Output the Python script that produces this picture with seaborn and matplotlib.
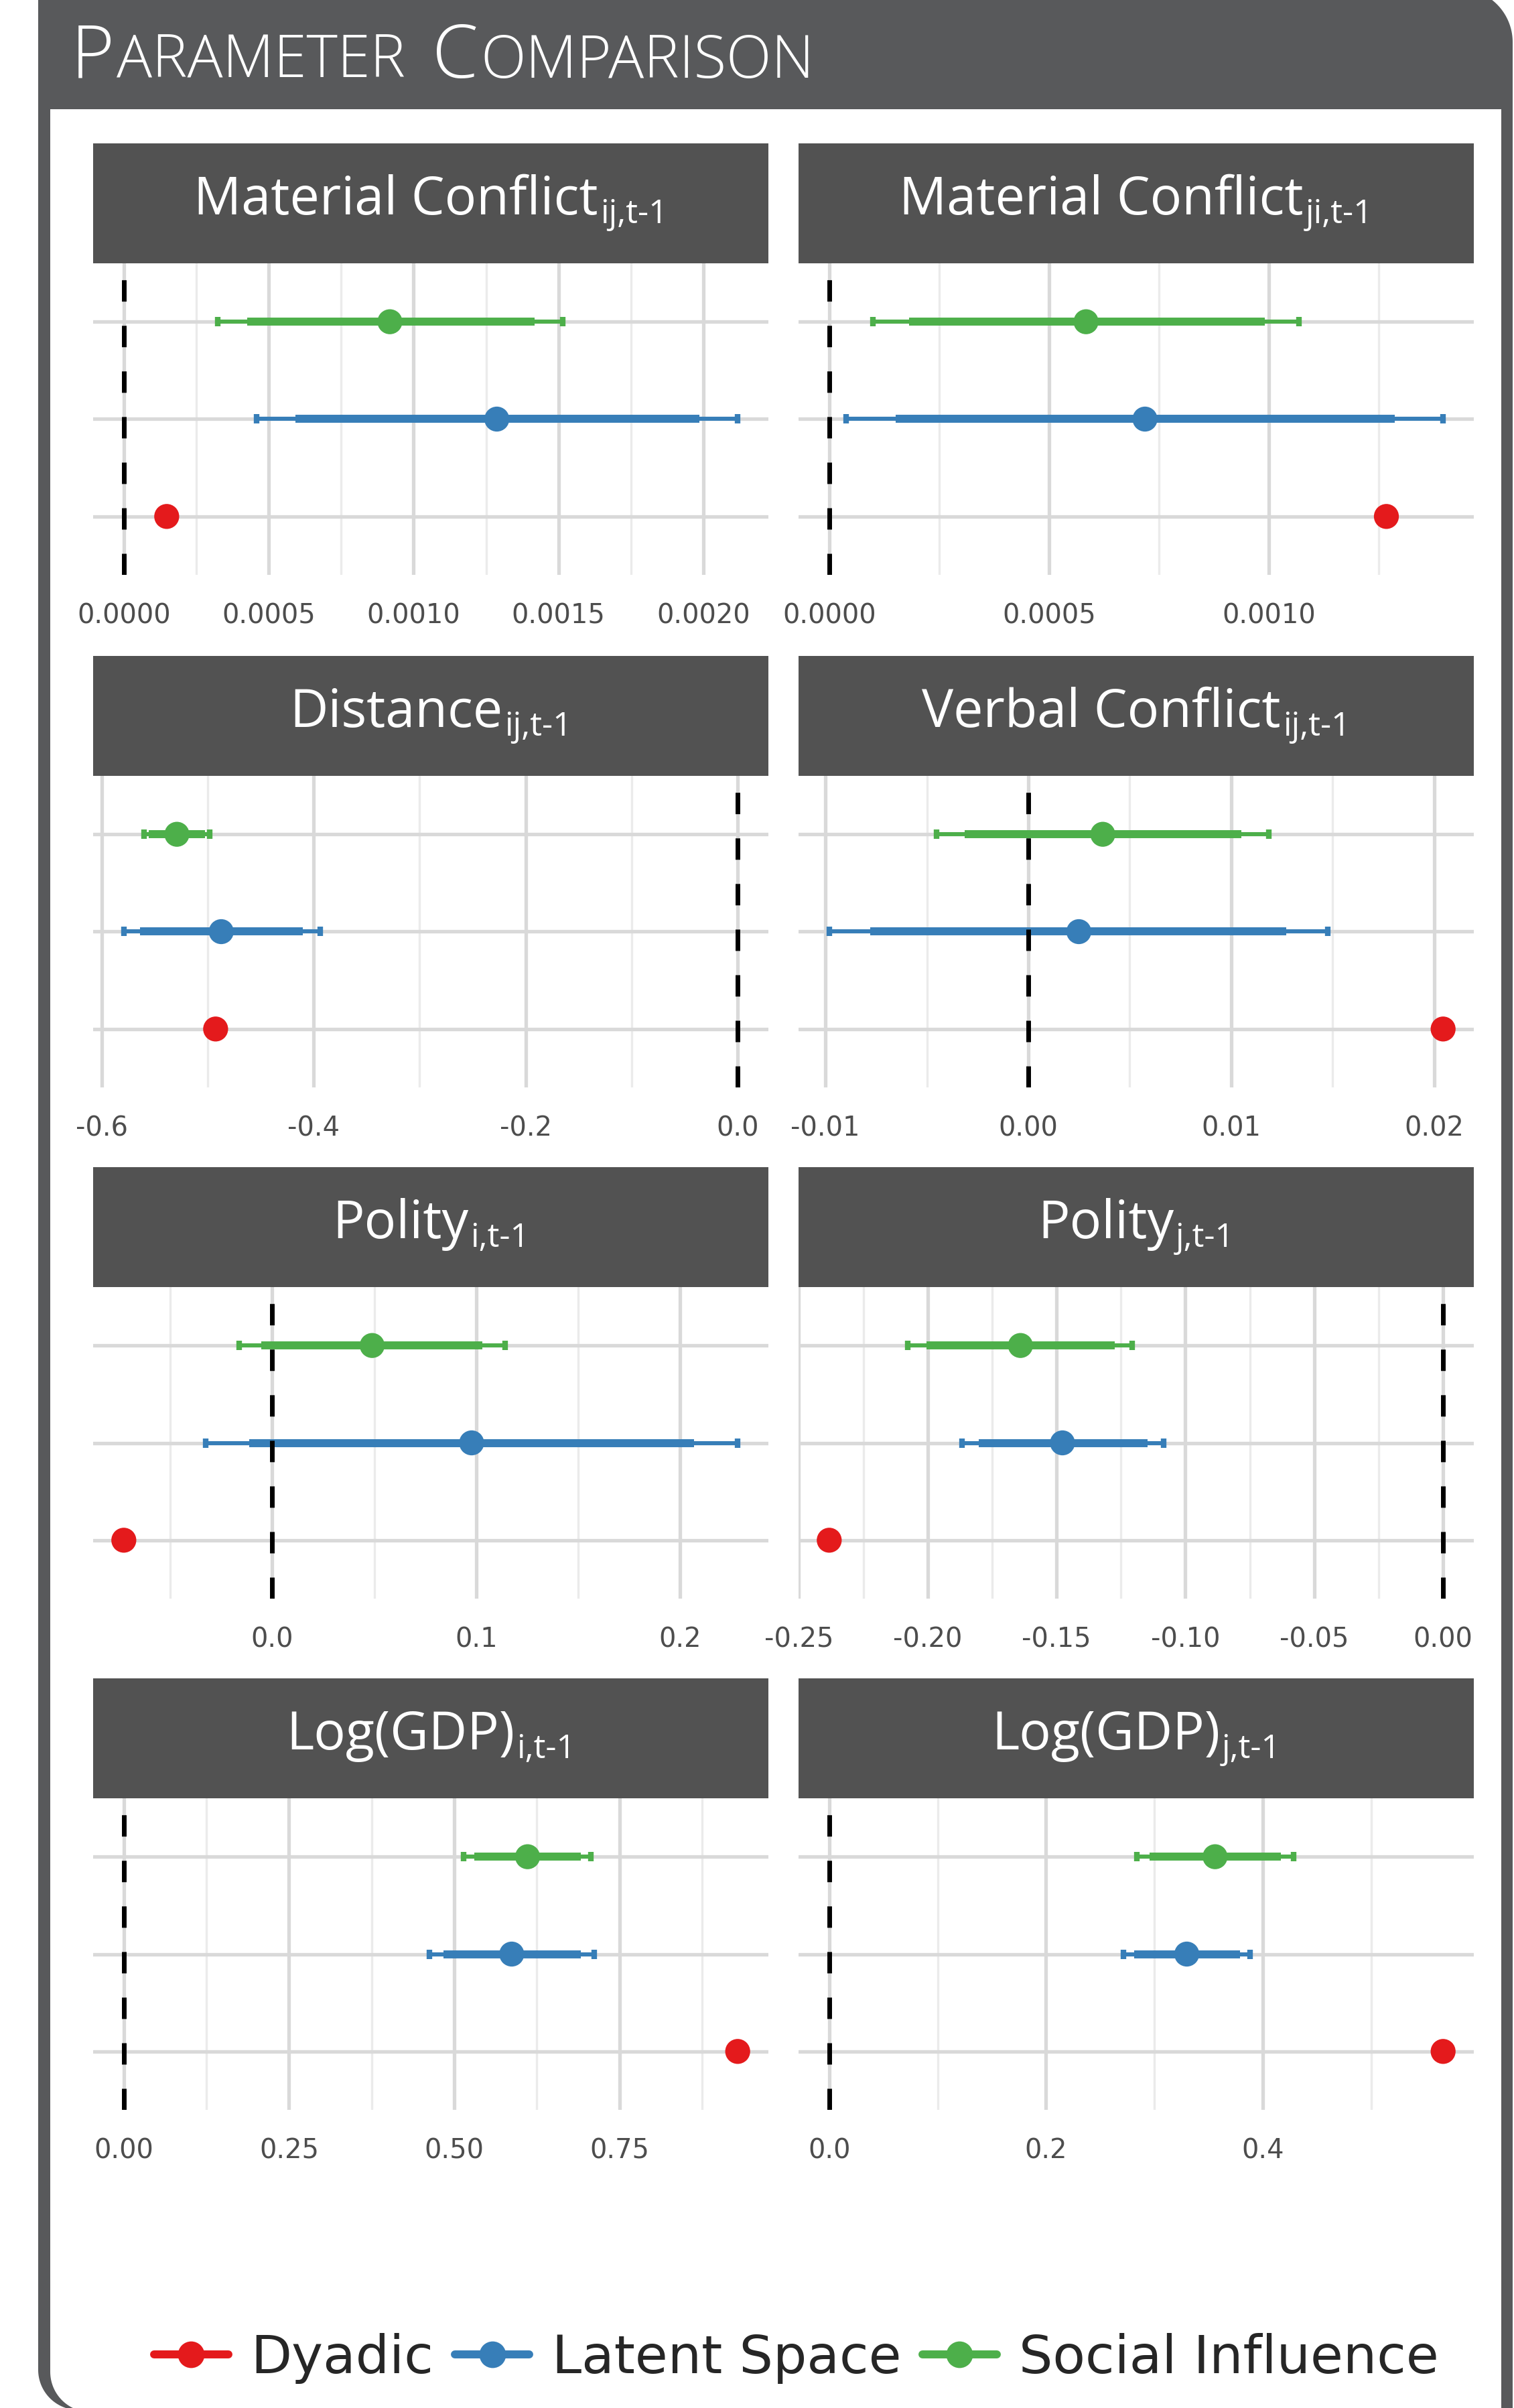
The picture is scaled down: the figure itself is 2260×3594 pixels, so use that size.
import numpy as np
import pandas as pd
import matplotlib
matplotlib.use("Agg")
import matplotlib.pyplot as plt
import seaborn as sns
from matplotlib.lines import Line2D
from matplotlib.patches import Polygon, Rectangle
from matplotlib.ticker import MultipleLocator, FuncFormatter

# Panels: variable name and its subscript
panel_names = ["Material Conflict", "Material Conflict", "Distance", "Verbal Conflict",
               "Polity", "Polity", "Log(GDP)", "Log(GDP)"]
panel_subs = ["ij,t-1", "ji,t-1", "ij,t-1", "ij,t-1", "i,t-1", "j,t-1", "i,t-1", "j,t-1"]
tick_steps = [0.0005, 0.0005, 0.2, 0.01, 0.1, 0.05, 0.25, 0.2]
tick_decimals = [4, 4, 1, 2, 1, 2, 2, 1]

models = ["Dyadic", "Latent Space", "Social Influence"]
model_colors = ["#e41a1c", "#377eb8", "#4daf4a"]

# Dyadic model: point estimates only
dyadic_est = [0.000148, 0.001267, -0.4925, 0.02044, -0.0728, -0.2382, 0.9288, 0.5664]

# Latent space model: estimate, 95% and 90% intervals
latent_est = [0.001287, 0.000718, -0.4872, 0.00249, 0.0978, -0.1477, 0.5869, 0.3299]
latent_lo95 = [0.000458, 0.000038, -0.5791, -0.00981, -0.0327, -0.1868, 0.4626, 0.2717]
latent_hi95 = [0.002118, 0.001396, -0.3940, 0.01474, 0.2283, -0.1085, 0.7121, 0.3882]
latent_lo90 = [0.000593, 0.000151, -0.5636, -0.00778, -0.0114, -0.1802, 0.4833, 0.2814]
latent_hi90 = [0.001985, 0.001286, -0.4105, 0.01272, 0.2068, -0.1148, 0.6913, 0.3793]

# Social influence model: estimate, 95% and 90% intervals
social_est = [0.000918, 0.000584, -0.5290, 0.00367, 0.0490, -0.1640, 0.6109, 0.3560]
social_lo95 = [0.000325, 0.000099, -0.5600, -0.00452, -0.0163, -0.2077, 0.5141, 0.2836]
social_hi95 = [0.001514, 0.001068, -0.4979, 0.01185, 0.1143, -0.1206, 0.7071, 0.4287]
social_lo90 = [0.000426, 0.000181, -0.5556, -0.00313, -0.0054, -0.2005, 0.5298, 0.2955]
social_hi90 = [0.001418, 0.000991, -0.5023, 0.01051, 0.1029, -0.1273, 0.6913, 0.4168]

W, H, DPI = 2260, 3594, 200
FRAME = "#58595b"
STRIP = "#525252"
GRID_MAJOR = "#d9d9d9"
GRID_MINOR = "#ebebeb"

# layout in pixels
col_x = [(139, 1147), (1192, 2200)]
strip_top = [214, 979, 1742, 2505]
strip_h = 179
panel_h = 465


def build_table():
    rows = []
    for p in range(len(panel_names)):
        rows.append(dict(panel=p, model="Dyadic", y=1, est=dyadic_est[p]))
        rows.append(dict(panel=p, model="Latent Space", y=2, est=latent_est[p],
                         lo95=latent_lo95[p], hi95=latent_hi95[p],
                         lo90=latent_lo90[p], hi90=latent_hi90[p]))
        rows.append(dict(panel=p, model="Social Influence", y=3, est=social_est[p],
                         lo95=social_lo95[p], hi95=social_hi95[p],
                         lo90=social_lo90[p], hi90=social_hi90[p]))
    return pd.DataFrame(rows)


def arc(cx, cy, r, a0, a1, n=40):
    t = np.radians(np.linspace(a0, a1, n))
    return list(zip(cx + r * np.cos(t), cy + r * np.sin(t)))


def put_pieces(ax, renderer, pieces, x, y, ha, family, color, weight="normal"):
    # pieces: (text, size, dy, gap_after)
    objs = [ax.text(0, y + dy, t, fontsize=s, family=family, color=color,
                    va="baseline", ha="left", fontweight=weight)
            for t, s, dy, g in pieces]
    widths = [o.get_window_extent(renderer).width for o in objs]
    gaps = [g for t, s, dy, g in pieces]
    total = sum(widths) + sum(gaps[:-1])
    start = x - total / 2 if ha == "center" else x
    for o, w, g in zip(objs, widths, gaps):
        o.set_x(start)
        start += w + g


def main():
    df = build_table()

    sns.set_theme(style="white")
    plt.rcParams["font.family"] = ["DejaVu Sans"]

    fig = plt.figure(figsize=(W / DPI, H / DPI), dpi=DPI)
    fig.patch.set_facecolor("white")
    renderer = fig.canvas.get_renderer()

    # background axes in pixel units for the frame and strips
    bg = fig.add_axes([0, 0, 1, 1], zorder=0)
    bg.set_xlim(0, W)
    bg.set_ylim(H, 0)
    bg.axis("off")

    outer = [(57, -17)] + arc(2178, 63, 80, -90, 0) + [(2258, 3597)] + arc(117, 3537, 60, 90, 180)
    bg.add_patch(Polygon(outer, closed=True, fc=FRAME, ec="none"))
    inner = [(75, 163), (2241, 163), (2241, 3600)] + arc(135, 3540, 60, 90, 180)
    bg.add_patch(Polygon(inner, closed=True, fc="white", ec="none"))

    # title in small caps
    big, small = 40, 31.8
    put_pieces(bg, renderer,
               [("P", big, 0, 3), ("ARAMETER", small, 0, 40),
                ("C", big, 0, 3), ("OMPARISON", small, 0, 0)],
               106, 116, "left", "Open Sans", "white", weight="light")

    palette = dict(zip(models, model_colors))

    for p in range(len(panel_names)):
        row, col = divmod(p, 2)
        x0, x1 = col_x[col]
        top = strip_top[row]

        # strip
        bg.add_patch(Rectangle((x0, top), x1 - x0, strip_h, fc=STRIP, ec="none"))
        put_pieces(bg, renderer,
                   [(panel_names[p], 28.5, 0, 3), (panel_subs[p], 18, 13, 0)],
                   (x0 + x1) / 2, top + 106, "center", "Open Sans", "white")

        ax_top = top + strip_h
        ax = fig.add_axes([x0 / W, 1 - (ax_top + panel_h) / H, (x1 - x0) / W, panel_h / H],
                          zorder=1)
        ax.set_facecolor("white")
        sub = df[df["panel"] == p]

        # intervals: thin 95%, thick 90%
        for _, r in sub.dropna().iterrows():
            c = palette[r["model"]]
            ax.errorbar(r["est"], r["y"], xerr=[[r["est"] - r["lo95"]], [r["hi95"] - r["est"]]],
                        fmt="none", ecolor=c, elinewidth=2.2, capsize=2.45, capthick=3, zorder=2)
            ax.hlines(r["y"], r["lo90"], r["hi90"], color=c, lw=4.3, zorder=3, capstyle="butt")

        sns.scatterplot(data=sub, x="est", y="y", hue="model", palette=palette, s=180,
                        linewidth=0, legend=False, ax=ax, zorder=4)

        ax.axvline(0, color="black", lw=2.5, ls=(0, (4.6, 5.2)), zorder=5)

        # scale like ggplot: data range incl. 0 with 5% padding
        vals = sub[["est", "lo95", "hi95"]].to_numpy().ravel()
        vals = np.append(vals[~np.isnan(vals)], 0.0)
        lo, hi = vals.min(), vals.max()
        padx = (hi - lo) * 0.05
        ax.set_xlim(lo - padx, hi + padx)
        ax.set_ylim(0.4, 3.6)

        step = tick_steps[p]
        dec = tick_decimals[p]
        ax.xaxis.set_major_locator(MultipleLocator(step))
        ax.xaxis.set_minor_locator(MultipleLocator(step / 2))
        ax.xaxis.set_major_formatter(FuncFormatter(
            lambda v, _, d=dec, s=step: f"{(0.0 if abs(v) < s * 1e-6 else v):.{d}f}"))
        ax.set_yticks([1, 2, 3])
        ax.set_yticklabels([])

        ax.set_axisbelow(True)
        ax.grid(which="major", axis="both", color=GRID_MAJOR, lw=1.9)
        ax.grid(which="minor", axis="x", color=GRID_MINOR, lw=1.2)
        ax.tick_params(axis="x", which="both", length=0, labelsize=14.4,
                       labelcolor="#4d4d4d", pad=15)
        ax.tick_params(axis="y", length=0)
        for s in ax.spines.values():
            s.set_visible(False)
        ax.set_xlabel("")
        ax.set_ylabel("")

    handles = [Line2D([], [], color=c, lw=4.3, marker="o", markersize=13.3) for c in model_colors]
    fig.legend(handles, models, loc="center", bbox_to_anchor=(1189 / W, 1 - 3520 / H),
               ncol=3, frameon=False, prop={"family": "DejaVu Sans", "size": 28.6},
               handlelength=1.4, handletextpad=0.42, columnspacing=0.4)

    fig.savefig("out.png", dpi=DPI, facecolor="white")


if __name__ == "__main__":
    main()
